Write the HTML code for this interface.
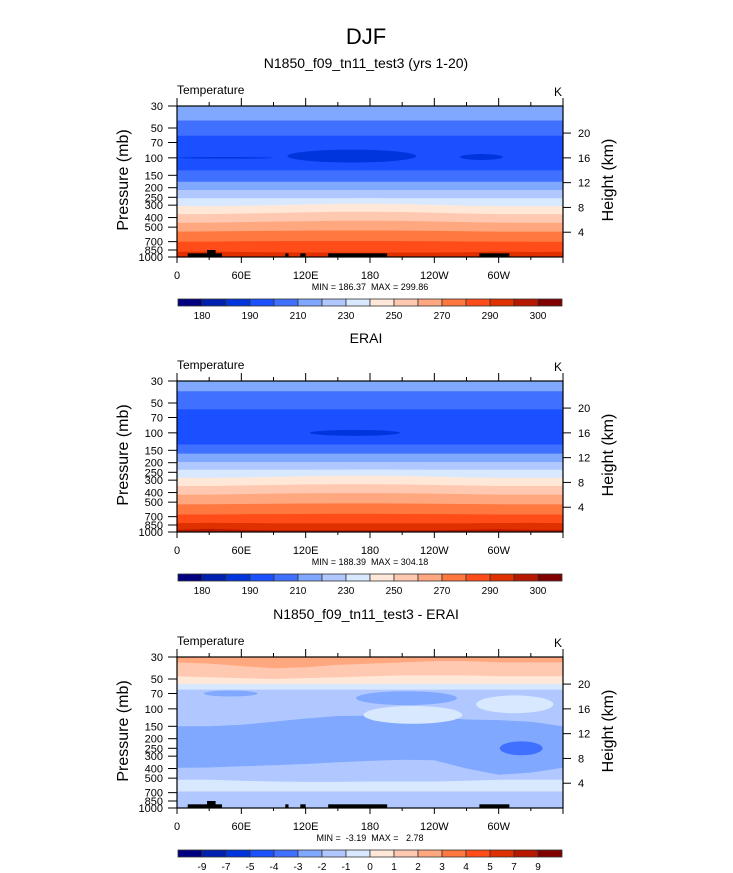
<!DOCTYPE html>
<html><head><meta charset="utf-8"><style>
html,body{margin:0;padding:0;background:#fff;}
svg{display:block;font-family:"Liberation Sans",Arial,sans-serif;}
</style></head><body>
<svg id="chart" width="733" height="873" viewBox="0 0 733 873" xmlns="http://www.w3.org/2000/svg">
<text x="366" y="44" font-size="22" text-anchor="middle">DJF</text>
</svg>
<script>
// ---- data ----
const lons = [0,30,60,90,120,150,180,210,240,270,300,330,360];
const palette = ["#000080","#0020b0","#0035dd","#1a50ff","#4070ff","#80a8ff","#b0c8ff","#d8e8ff","#ffe8d8","#ffc8b0","#ffa880","#ff7840","#ff4c18","#e03000","#b81800","#800000"];
const tempBarLabels = ["180","190","210","230","250","270","290","300"];
const diffBarLabels = ["-9","-7","-5","-4","-3","-2","-1","0","1","2","3","4","5","7","9"];
const pressureTicks = [30,50,70,100,150,200,250,300,400,500,700,850,1000];
const heightTicks = [4,8,12,16,20];
const lonLabels = ["0","60E","120E","180","120W","60W"];

const p1Bounds = [
 [42,42,42,42,42,42,42,42,42,42,42,42,42],
 [60,60,60,60,60,60,60,60,60,60,60,60,60],
 [134,134,134,134,134,134,134,134,134,134,134,134,134],
 [174,174,174,174,174,174,174,174,174,174,174,174,174],
 [211,211,211,211,211,211,211,211,211,211,211,211,211],
 [256,256,256,256,256,255,254,255,256,256,256,256,256],
 [306,306,304,300,295,290,290,292,298,304,306,306,306],
 [369,369,365,360,355,350,350,352,358,365,369,369,369],
 [451,450,445,440,435,430,430,432,438,445,450,451,451],
 [555,552,548,545,542,540,540,542,546,550,555,555,555],
 [701,700,695,692,690,690,690,692,695,698,700,701,701],
 [885,880,890,895,900,900,900,900,900,895,880,890,885]];
const p1Colors = [5,4,3,4,5,6,7,8,9,10,11,12];
const p1Bottom = 13;
const p1Blobs = [[163,60,96,0.065,2],[284,20,98,0.03,2],[45,45,100,0.006,2]];

const p2Bounds = [
 [38,38,38,38,38,38,38,38,38,38,38,38,38],
 [58,58,58,58,58,58,58,58,58,58,58,58,58],
 [131,131,131,131,131,131,131,131,131,131,131,131,131],
 [162,162,162,162,162,162,162,162,162,162,162,162,162],
 [197,197,197,197,197,197,197,197,197,197,197,197,197],
 [236,236,236,236,236,235,234,235,236,236,236,236,236],
 [284,284,282,278,274,270,270,272,276,282,284,284,284],
 [344,344,340,336,332,330,330,332,336,340,344,344,344],
 [420,420,415,410,407,405,405,407,410,415,420,420,420],
 [527,525,522,518,516,515,515,516,518,522,525,527,527],
 [666,666,662,660,658,656,656,658,660,662,666,666,666],
 [813,810,812,815,815,815,815,815,815,815,812,810,813],
 [950,930,950,960,960,960,960,960,960,950,940,950,950]];
const p2Colors = [5,4,3,4,5,6,7,8,9,10,11,12,13];
const p2Bottom = 14;
const p2Blobs = [[166,42,100,0.03,2]];

const p3Bounds = [
 [34,35,37,39,38,36,35,34,33,33,34,34,34],
 [47,48,49,50,49,48,47,46,46,46,47,47,47],
 [56,56,56,56,56,56,56,56,56,56,56,56,56],
 [64,64,64,64,64,64,64,64,64,64,64,64,64],
 [150,150,145,135,125,118,117,118,122,128,130,135,150],
 [392,390,380,370,360,345,335,326,330,400,462,440,392],
 [519,519,530,540,545,545,540,540,540,530,519,519,519],
 [681,681,681,681,681,681,681,681,681,681,681,681,681]];
const p3Colors = [10,9,8,7,6,5,6,7];
const p3Bottom = 6;
const p3Blobs = [[50,25,70,0.03,5],[214,47,78,0.07,5],[220,46,115,0.09,7],[315,36,90,0.09,7],[321,20,250,0.07,4]];

const landMask = [[10,42,918],[28,36,850],[101,104,918],[115,120,918],[141,196,918],[282,310,918]];

// ---- drawing ----
const svg = document.getElementById('chart');
const NS = "http://www.w3.org/2000/svg";
function mk(tag, attrs, parent){
  const e = document.createElementNS(NS, tag);
  for (const k in attrs) e.setAttribute(k, attrs[k]);
  (parent||svg).appendChild(e);
  return e;
}
const X0 = 177, W = 386, H = 151;
const LOGR = Math.log10(1000/30);

function drawPanel(top, title, bounds, colors, bottomColor, blobs, land, barLabels, minmax, idx){
  const g = mk('g', {});
  
  
  const xOf = lon => X0 + lon/360*W;
  const yOf = p => top + Math.log10(p/30)/LOGR*H;
  const clipId = 'clip'+idx;
  const cp = mk('clipPath', {id: clipId}, g);
  mk('rect', {x:X0, y:top, width:W, height:H}, cp);
  const plot = mk('g', {'clip-path':'url(#'+clipId+')'}, g);
  
  
  const bg = mk('rect', {x:X0, y:top, width:W, height:H, fill:palette[bottomColor]}, plot);
  
  
  for (let b = bounds.length-1; b >= 0; b--){
    let d = 'M' + xOf(0) + ',' + (top-1);
    for (let i = 0; i < lons.length; i++) d += ' L' + xOf(lons[i]).toFixed(1) + ',' + yOf(bounds[b][i]).toFixed(1);
    d += ' L' + xOf(360) + ',' + (top-1) + ' Z';
    const pth = mk('path', {d:d, fill:palette[colors[b]]}, plot);
    
    
  }
  blobs.forEach(bl => {
    const yc = yOf(bl[2]);
    const ry = bl[3]/LOGR*H;
    const el = mk('ellipse', {cx:xOf(bl[0]), cy:yc, rx:bl[1]/360*W, ry:Math.max(ry,0.8), fill:palette[bl[4]]}, plot);
    
    
  });
  if (land) land.forEach(l => {
    const r = mk('rect', {x:xOf(l[0]), y:yOf(l[2]), width:xOf(l[1])-xOf(l[0]), height:top+H-yOf(l[2]), fill:'#000'}, plot);
    
    
  });
  mk('rect', {x:X0, y:top, width:W, height:H, fill:'none', stroke:'#000', 'stroke-width':1.2}, g);
  const t = mk('text', {x:366, y:top-38, 'font-size':14, 'text-anchor':'middle'}, g);
  t.textContent = title;
  
  
  const lt = mk('text', {x:177, y:top-12, 'font-size':12}, g);
  lt.textContent = 'Temperature';
  
  
  const ut = mk('text', {x:562, y:top-10, 'font-size':12, 'text-anchor':'end'}, g);
  ut.textContent = 'K';
  
  
  for (let lon = 0; lon <= 360; lon += 30){
    const major = lon % 60 === 0;
    const x = xOf(lon);
    mk('line', {x1:x, x2:x, y1:top, y2:top-(major?8:4), stroke:'#000', 'stroke-width':1}, g);
    mk('line', {x1:x, x2:x, y1:top+H, y2:top+H+(major?6:3), stroke:'#000', 'stroke-width':1}, g);
  }
  lonLabels.forEach((s,i) => {
    const tx = mk('text', {x:xOf(i*60), y:top+H+22, 'font-size':11, 'text-anchor':'middle'}, g);
    tx.textContent = s;
    
    
  });
  pressureTicks.forEach(p => {
    const y = yOf(p);
    mk('line', {x1:X0-9, x2:X0, y1:y, y2:y, stroke:'#000', 'stroke-width':1}, g);
    const tx = mk('text', {x:163, y:y+4, 'font-size':11, 'text-anchor':'end'}, g);
    tx.textContent = p;
    
    
  });
  heightTicks.forEach(h => {
    const y = yOf(1000*Math.exp(-h/6.95));
    mk('line', {x1:X0+W, x2:X0+W+8, y1:y, y2:y, stroke:'#000', 'stroke-width':1}, g);
    const tx = mk('text', {x:578, y:y+4, 'font-size':11}, g);
    tx.textContent = h;
    
    
  });
  const ya = mk('text', {x:0, y:0, 'font-size':16, 'text-anchor':'middle', transform:'translate(128,'+(top+74)+') rotate(-90)'}, g);
  ya.textContent = 'Pressure (mb)';
  
  
  const yb = mk('text', {x:0, y:0, 'font-size':16, 'text-anchor':'middle', transform:'translate(613,'+(top+74)+') rotate(-90)'}, g);
  yb.textContent = 'Height (km)';
  
  
  const mm = mk('text', {x:370, y:top+H+33, 'font-size':9, 'text-anchor':'middle', style:'white-space:pre'}, g);
  mm.textContent = minmax;
  
  
  const cbY = top+193, cbX = 178, cbW = 384, bw = cbW/16;
  const cb = mk('g', {}, g);
  
  
  for (let i = 0; i < 16; i++){
    const r = mk('rect', {x:cbX+i*bw, y:cbY, width:bw, height:7, fill:palette[i], stroke:'#333', 'stroke-width':0.8}, cb);
    
    
  }
  const step = barLabels.length === 8 ? 2 : 1;
  barLabels.forEach((s,i) => {
    const tx = mk('text', {x:cbX+(1+i*step)*bw, y:cbY+20, 'font-size':10, 'text-anchor':'middle'}, cb);
    tx.textContent = s;
    
    
  });
}
drawPanel(106, 'N1850_f09_tn11_test3 (yrs 1-20)', p1Bounds, p1Colors, p1Bottom, p1Blobs, landMask, tempBarLabels, 'MIN = 186.37  MAX = 299.86', 1);
drawPanel(381, 'ERAI', p2Bounds, p2Colors, p2Bottom, p2Blobs, null, tempBarLabels, 'MIN = 188.39  MAX = 304.18', 2);
drawPanel(657, 'N1850_f09_tn11_test3 - ERAI', p3Bounds, p3Colors, p3Bottom, p3Blobs, landMask, diffBarLabels, 'MIN =  -3.19  MAX =   2.78', 3);
</script>
</body></html>
